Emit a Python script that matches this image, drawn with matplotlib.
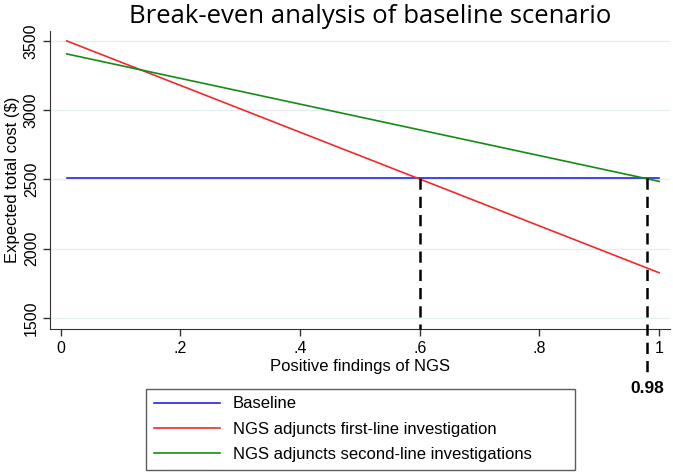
import matplotlib.pyplot as plt

# positive findings of NGS (line end points)
positiveFindings = [0.01, 1.0]
baselineCost = [2512, 2512]
firstLineCost = [3500, 1826]
secondLineCost = [3406, 2486]
breakEvenPoints = [0.6, 0.98]
breakEvenCost = 2512

plt.rcParams['font.family'] = ['Liberation Sans', 'DejaVu Sans']

fig = plt.figure(figsize=(6.73, 4.74), dpi=100)
ax = fig.add_axes([0.0743, 0.306, 0.921, 0.6287])

ax.plot(positiveFindings, baselineCost, color='#2323e8', lw=1.2, label='Baseline')
ax.plot(positiveFindings, firstLineCost, color='#f02a2a', lw=1.2, label='NGS adjuncts first-line investigation')
ax.plot(positiveFindings, secondLineCost, color='#168a16', lw=1.2, label='NGS adjuncts second-line investigations')

ax.set_xlim(-0.018, 1.018)
ax.set_ylim(1420, 3572)

# break-even dashed lines
ax.plot([breakEvenPoints[0], breakEvenPoints[0]], [breakEvenCost, 1420], color='black', lw=1.8,
        ls=(0, (4.5, 2.8)), clip_on=False, zorder=3)
ax.plot([breakEvenPoints[1], breakEvenPoints[1]], [breakEvenCost, 1108], color='black', lw=1.8,
        ls=(0, (4.5, 2.8)), clip_on=False, zorder=3)
ax.text(breakEvenPoints[1], 990, '0.98', ha='center', va='center', fontsize=12.5,
        fontweight='bold')

ax.set_xticks([0, 0.2, 0.4, 0.6, 0.8, 1])
ax.set_xticklabels(['0', '.2', '.4', '.6', '.8', '1'])
ax.set_yticks([1500, 2000, 2500, 3000, 3500])
ax.set_yticklabels(['1500', '2000', '2500', '3000', '3500'], rotation=90, va='center')
ax.tick_params(axis='both', labelsize=11.5, length=5, width=1, color='#333333')
ax.tick_params(axis='y', pad=3)

ax.grid(axis='y', color='#e6efef', lw=1)
ax.set_axisbelow(True)
for side in ['top', 'right']:
    ax.spines[side].set_visible(False)
for side in ['left', 'bottom']:
    ax.spines[side].set_color('#333333')

ax.set_xlabel('Positive findings of NGS', fontsize=12, labelpad=2)
ax.set_ylabel('Expected total cost ($)', fontsize=12, labelpad=3)

fig.text(0.55, 0.965, 'Break-even analysis of baseline scenario', ha='center', va='center',
         fontsize=18.5, family=['Open Sans', 'DejaVu Sans'])

leg = fig.legend(loc='upper left',
                 bbox_to_anchor=(146 / 673, 1 - 389 / 474, (575 - 146) / 673, 0),
                 mode='expand', borderaxespad=0, fontsize=12, handlelength=4.0,
                 frameon=True, fancybox=False, edgecolor='#333333',
                 borderpad=0.45, labelspacing=0.62, handletextpad=0.75)
leg.get_frame().set_linewidth(1)

plt.savefig('out.png', dpi=100)
